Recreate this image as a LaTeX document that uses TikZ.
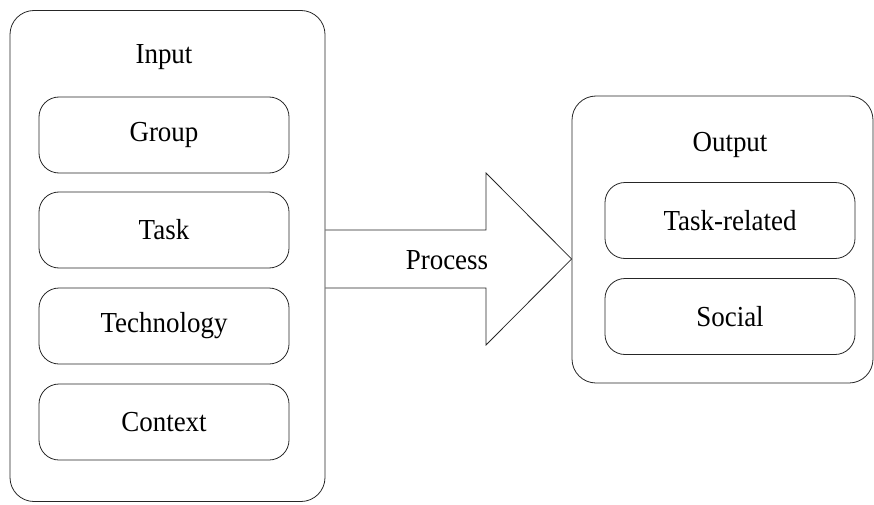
\documentclass[tikz,border=0pt]{standalone}
\usepackage{fontspec}
\setmainfont[FakeStretch=0.93]{Liberation Serif}
\begin{document}
\begin{tikzpicture}[x=1pt,y=-1pt,
  frame/.style={draw=black!85,line width=0.8pt,rounded corners=24pt,inner sep=0pt},
  item/.style={draw=black!85,line width=0.8pt,rounded corners=20pt,minimum width=250pt,minimum height=76pt,inner sep=0pt,font=\fontsize{29}{33}\selectfont},
  label/.style={inner sep=0pt,font=\fontsize{29}{33}\selectfont}]
\useasboundingbox (0,0) rectangle (874,505);
% input group
\node[frame,minimum width=315pt,minimum height=491pt] (inbox) at (167.5,256) {};
\node[label] (intitle) at (164,57) {Input};
\node[item] (group) at (164,135) {Group};
\node[item] (task) at (164,230) {Task};
\node[item] (tech) at (164,326) {Technology};
\node[item] (ctx) at (164,422) {Context};
% output group
\node[frame,minimum width=301pt,minimum height=287pt] (outbox) at (722.5,239.5) {};
\node[label] (outtitle) at (730,145) {Output};
\node[item] (taskrel) at (730,220.5) {Task-related};
\node[item] (social) at (730,316.5) {Social};
% process arrow: shaft from the input frame, head touching the output frame
\coordinate (tail) at (inbox.east |- 0,259);
\coordinate (tip) at (outbox.west |- 0,259);
\draw[draw=black!85,line width=0.8pt,line join=miter]
  ([yshift=29pt]tail) -- (486,230) -- (486,173) -- (tip) -- (486,345) -- (486,288) -- ([yshift=-29pt]tail);
\node[label] (proc) at (447,260) {Process};
\end{tikzpicture}
\end{document}
